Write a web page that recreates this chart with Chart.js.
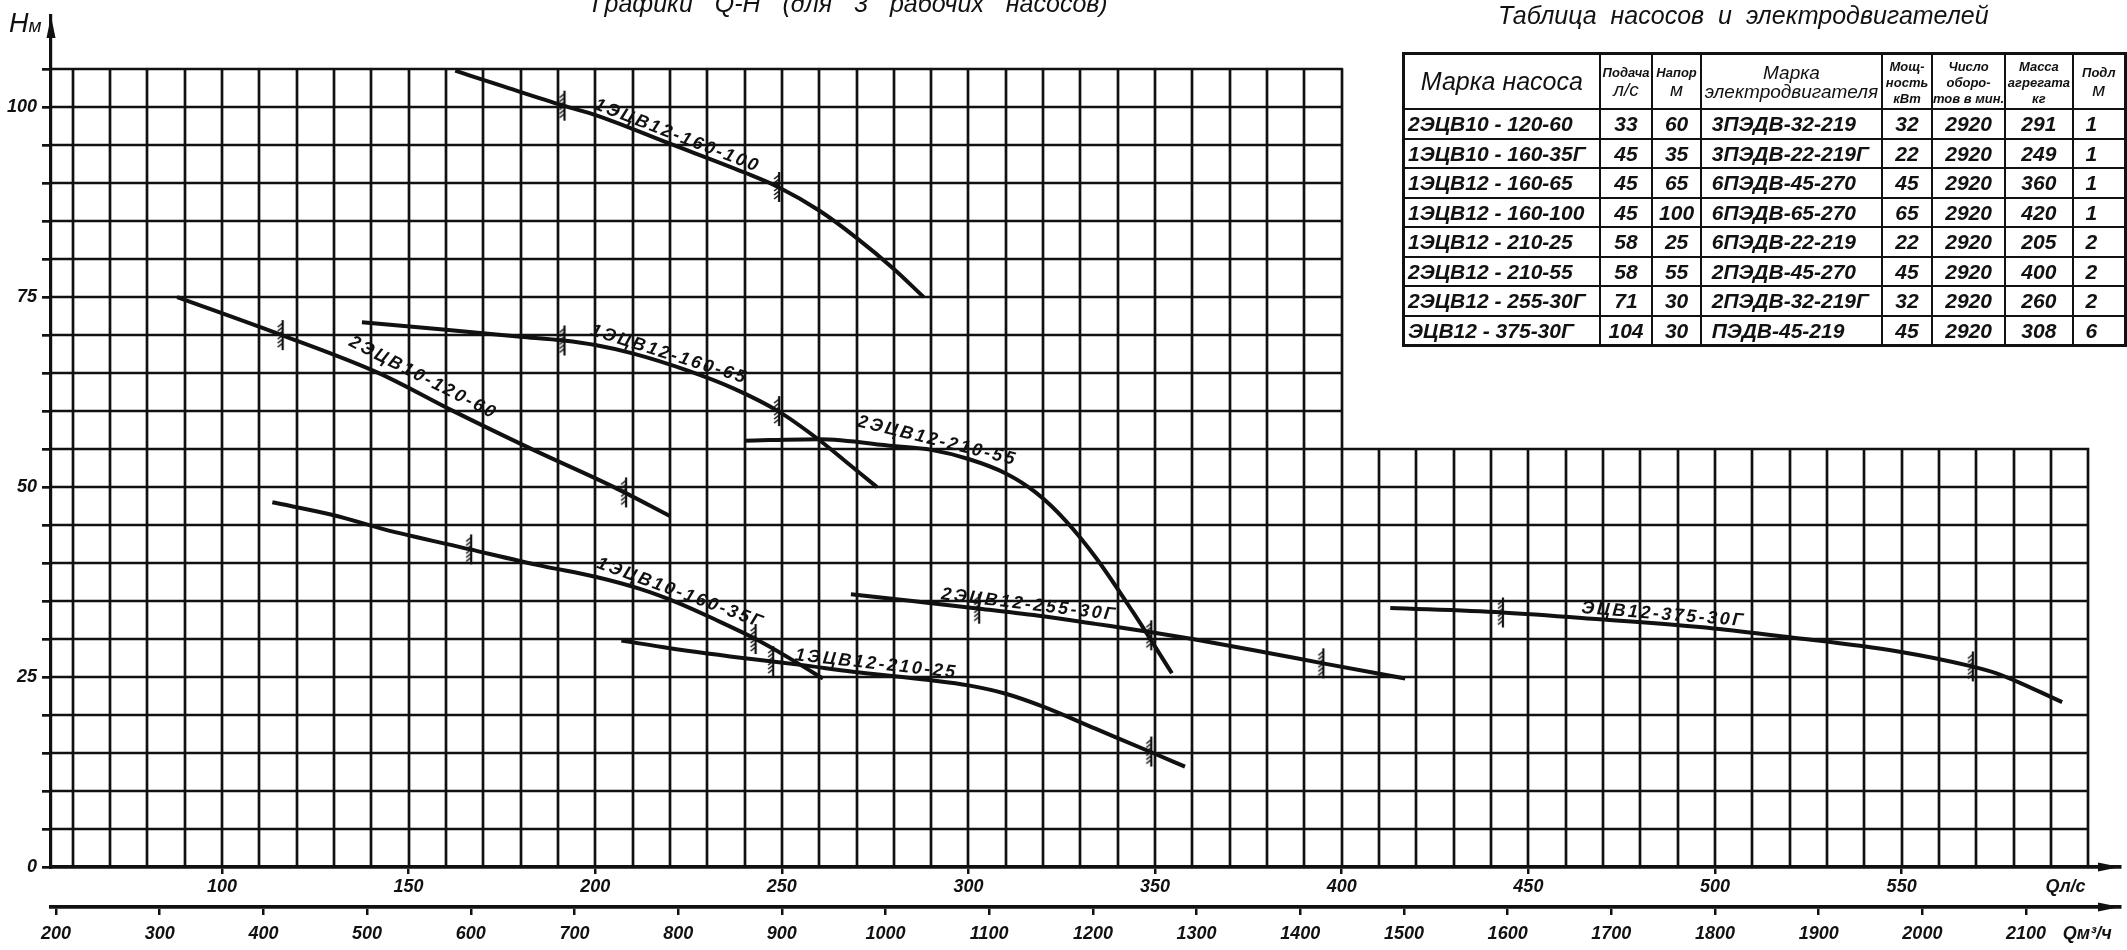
<!DOCTYPE html>
<html>
<head>
<meta charset="utf-8">
<script src="https://cdn.jsdelivr.net/npm/chart.js@4.4.1/dist/chart.umd.min.js"></script>
<style>
  html, body { margin: 0; padding: 0; background: #fff; overflow: hidden; }
  #wrap { position: relative; width: 2127px; height: 950px; overflow: hidden; background: #fff; }
  #chart { position: absolute; left: 0; top: 0; }
  .hand { position: absolute; font-family: "Liberation Sans", Arial, sans-serif;
          font-style: italic; color: #111; white-space: nowrap; }
  #title { left: 592px; top: -9px; font-size: 25px; line-height: 25px; word-spacing: 15px; }
  #tabTitle { left: 1498px; top: 3px; font-size: 25px; line-height: 25px; word-spacing: 7px; }
  #hLabel { left: 9px; top: 10px; font-size: 27px; line-height: 27px; }
  #hLabel small { font-size: 19px; }
  #pumps { position: absolute; left: 1402px; top: 52px; border-collapse: collapse; table-layout: fixed;
           font-family: "Liberation Sans", Arial, sans-serif;
           font-style: italic; font-weight: bold; color: #111; border: 3px solid #111; }
  #pumps td, #pumps th { border: 2px solid #111; padding: 0; text-align: center; white-space: nowrap; overflow: hidden; }
  #pumps tbody td { height: 27.5px; font-size: 21px; line-height: 21px; }
  #pumps thead th { height: 53px; font-weight: bold; line-height: 1; }
  #pumps td.name { text-align: left; padding-left: 3px; }
  #pumps td.motor { text-align: left; padding-left: 10px; }
  #pumps td.last { text-align: left; padding-left: 12px; }
  .hBig { font-size: 25px; font-weight: normal; }
  .hMid { font-size: 19px; font-weight: normal; }
  .hSm  { font-size: 13px; }
</style>
</head>
<body>
<div id="wrap">
  <canvas id="chart" width="2127" height="950"></canvas>
  <div id="title" class="hand">Графики Q-H (для 3 рабочих насосов)</div>
  <div id="tabTitle" class="hand">Таблица насосов и электродвигателей</div>
  <div id="hLabel" class="hand">H<small>м</small></div>
  <table id="pumps">
    <colgroup>
      <col style="width:211px"><col style="width:57px"><col style="width:55px"><col style="width:188px">
      <col style="width:56px"><col style="width:55px"><col style="width:71px"><col style="width:72px">
    </colgroup>
    <thead id="pumpHead"></thead>
    <tbody id="pumpBody"></tbody>
  </table>
</div>

<script>
// ---- axis ticks ----
const qTicks   = [100, 150, 200, 250, 300, 350, 400, 450, 500, 550];   // Q, л/с
const m3hTicks = [200, 300, 400, 500, 600, 700, 800, 900, 1000, 1100,
                  1200, 1300, 1400, 1500, 1600, 1700, 1800, 1900, 2000, 2100]; // Q, м³/ч
const hLabels  = [0, 25, 50, 75, 100];                                  // H, м

// ---- Q-H curves (Q л/с, H м) ----
const q12_160_100 = [162.5, 175, 191.5, 200.5, 220, 240, 249, 260, 270, 280, 288];
const h12_160_100 = [104.8, 102.8, 100.2, 98.9, 95.2, 91.4, 89.5, 86.4, 82.8, 78.7, 75];

const q10_120_60 = [88, 116, 142, 162, 183, 205, 220];
const h10_120_60 = [75, 70, 65, 60, 55, 50, 46.2];

const q12_160_65 = [137.5, 160, 180, 191.5, 200, 210, 225, 237, 249, 260, 268, 275.5];
const h12_160_65 = [71.7, 70.7, 69.8, 69.3, 68.7, 67.6, 65.3, 63, 60, 56.2, 53, 50];

const q12_210_55 = [240, 260, 280, 290, 300, 310, 318, 326, 334, 344, 354.5];
const h12_210_55 = [56.1, 56.3, 55.4, 54.9, 53.7, 51.8, 49.3, 45.6, 40.8, 33.6, 25.5];

const q10_160_35 = [113.5, 130, 143, 166.5, 186, 200, 212, 222, 232, 243, 254, 261];
const h10_160_35 = [48, 46.3, 44.5, 41.8, 39.6, 38.2, 36.6, 34.8, 32.6, 30, 26.9, 24.8];

const q12_210_25 = [207, 220, 243, 255, 269, 289.5, 300, 310, 320, 334, 349, 358];
const h12_210_25 = [29.8, 28.8, 27.3, 26.6, 25.7, 24.6, 23.9, 22.8, 21.1, 18.2, 15.1, 13.2];

const q12_255_30 = [268.5, 285, 303, 320, 334, 349, 360, 380, 395, 417];
const h12_255_30 = [35.9, 35, 34, 33, 32, 30.9, 30, 28.2, 26.8, 24.8];

const q12_375_30 = [413, 443, 469, 499.6, 519, 548.7, 568.8, 576.5, 593];
const h12_375_30 = [34.1, 33.5, 32.6, 31.4, 30.3, 28.4, 26.4, 25.3, 21.7];

// ---- working range marks on the curves ----
const markQ = [191.5, 249, 116, 208, 191.5, 249, 348.7, 166.5, 242.7, 302.6, 394.8, 247.4, 348.7, 442.9, 568.8];
const markH = [100.2, 89.5, 70, 49.3, 69.3, 60, 30.5, 41.8, 30, 34, 26.8, 27.1, 15.2, 33.5, 26.4];

// ---- curve captions ----
const capText = ['1ЭЦВ12-160-100', '2ЭЦВ10-120-60', '1ЭЦВ12-160-65', '2ЭЦВ12-210-55',
                 '1ЭЦВ10-160-35Г', '1ЭЦВ12-210-25', '2ЭЦВ12-255-30Г', 'ЭЦВ12-375-30Г'];
const capQ   = [221, 152, 219, 291, 222, 275, 316, 486];
const capH   = [95, 62.5, 66.2, 54.8, 34.8, 25.4, 33.2, 31.9];
const capGap = [5, 11, 5, 5, 5, 5, 5, 5];

// ---- pump table ----
const tabHead = [
  '<span class="hBig">Марка насоса</span>',
  '<span class="hSm">Подача</span><br><span class="hMid">л/с</span>',
  '<span class="hSm">Напор</span><br><span class="hMid">м</span>',
  '<span class="hMid">Марка<br>электродвигателя</span>',
  '<span class="hSm">Мощ-<br>ность<br>кВт</span>',
  '<span class="hSm">Число<br>оборо-<br>тов в мин.</span>',
  '<span class="hSm">Масса<br>агрегата<br>кг</span>',
  '<span class="hSm">Подл</span><br><span class="hMid">м</span>'
];
const tabPump  = ['2ЭЦВ10 - 120-60', '1ЭЦВ10 - 160-35Г', '1ЭЦВ12 - 160-65', '1ЭЦВ12 - 160-100',
                  '1ЭЦВ12 - 210-25', '2ЭЦВ12 - 210-55', '2ЭЦВ12 - 255-30Г', 'ЭЦВ12 - 375-30Г'];
const tabFlow  = [33, 45, 45, 45, 58, 58, 71, 104];
const tabHeadM = [60, 35, 65, 100, 25, 55, 30, 30];
const tabMotor = ['3ПЭДВ-32-219', '3ПЭДВ-22-219Г', '6ПЭДВ-45-270', '6ПЭДВ-65-270',
                  '6ПЭДВ-22-219', '2ПЭДВ-45-270', '2ПЭДВ-32-219Г', 'ПЭДВ-45-219'];
const tabPower = [32, 22, 45, 65, 22, 45, 32, 45];
const tabRpm   = [2920, 2920, 2920, 2920, 2920, 2920, 2920, 2920];
const tabMass  = [291, 249, 360, 420, 205, 400, 260, 308];
const tabLast  = [1, 1, 1, 1, 2, 2, 2, 6];

// fill the table
document.getElementById('pumpHead').innerHTML =
  '<tr>' + tabHead.map(h => `<th>${h}</th>`).join('') + '</tr>';
document.getElementById('pumpBody').innerHTML = tabPump.map((p, i) =>
  `<tr><td class="name">${p}</td><td>${tabFlow[i]}</td><td>${tabHeadM[i]}</td>` +
  `<td class="motor">${tabMotor[i]}</td><td>${tabPower[i]}</td><td>${tabRpm[i]}</td>` +
  `<td>${tabMass[i]}</td><td class="last">${tabLast[i]}</td></tr>`).join('');

// ---- chart geometry ----
const X_MIN = 54.2, X_MAX = 608.5, Y_MAX = 112;
const GRID_TOP = 105, GRID_RIGHT = 600, BLOCK_Q = 400, BLOCK_H = 55;
const QLS_POS = 593.9, QM3_POS = 2159;
const INK = '#111';
const FONT_FAMILY = '"Liberation Sans", Arial, sans-serif';
const tickFont = { family: FONT_FAMILY, size: 18, style: 'italic', weight: 'bold' };

const curves = [
  [q12_160_100, h12_160_100], [q10_120_60, h10_120_60], [q12_160_65, h12_160_65],
  [q12_210_55, h12_210_55], [q10_160_35, h10_160_35], [q12_210_25, h12_210_25],
  [q12_255_30, h12_255_30], [q12_375_30, h12_375_30]
];

// hatch mark used as point style
function makeHatch() {
  const c = document.createElement('canvas');
  c.width = 12; c.height = 32;
  const g = c.getContext('2d');
  g.strokeStyle = INK; g.lineWidth = 2.2;
  g.beginPath(); g.moveTo(7, 1); g.lineTo(7, 31); g.stroke();
  g.lineWidth = 1.6;
  for (let y = 4; y <= 26; y += 4) { g.beginPath(); g.moveTo(7, y); g.lineTo(2, y + 4); g.stroke(); }
  return c;
}

const gridPlugin = {
  id: 'lGrid',
  beforeDatasetsDraw(chart) {
    const { ctx, scales: { x, y } } = chart;
    ctx.save();
    ctx.strokeStyle = INK;
    ctx.lineWidth = 2.7;
    ctx.beginPath();
    for (let q = 60; q <= GRID_RIGHT; q += 10) {
      const top = q <= BLOCK_Q ? GRID_TOP : BLOCK_H;
      const px = Math.round(x.getPixelForValue(q));
      ctx.moveTo(px, y.getPixelForValue(0));
      ctx.lineTo(px, y.getPixelForValue(top) - 1);
    }
    for (let h = 5; h <= GRID_TOP; h += 5) {
      const right = h <= BLOCK_H ? GRID_RIGHT : BLOCK_Q;
      const py = Math.round(y.getPixelForValue(h));
      ctx.moveTo(x.getPixelForValue(X_MIN), py);
      ctx.lineTo(x.getPixelForValue(right) + 1, py);
    }
    ctx.stroke();
    ctx.restore();
  }
};

const captionPlugin = {
  id: 'captions',
  afterDatasetsDraw(chart) {
    const { ctx, scales: { x, y } } = chart;
    ctx.save();
    ctx.fillStyle = INK;
    ctx.font = `italic bold 18px ${FONT_FAMILY}`;
    ctx.textAlign = 'center';
    ctx.textBaseline = 'alphabetic';
    if ('letterSpacing' in ctx) ctx.letterSpacing = '2.5px';
    capText.forEach((t, i) => {
      const [qs, hs] = curves[i];
      // local direction of the curve around the caption
      let k = 1;
      while (k < qs.length - 1 && qs[k] < capQ[i]) k++;
      const dx = x.getPixelForValue(qs[k]) - x.getPixelForValue(qs[k - 1]);
      const dy = y.getPixelForValue(hs[k]) - y.getPixelForValue(hs[k - 1]);
      const ang = Math.atan2(dy, dx);
      ctx.save();
      ctx.translate(x.getPixelForValue(capQ[i]), y.getPixelForValue(capH[i]));
      ctx.rotate(ang);
      ctx.fillText(t, 0, -capGap[i]);
      ctx.restore();
    });
    ctx.restore();
  }
};

function arrowHead(ctx, tx, ty, dir) {
  const L = 22, W = 4.5;
  ctx.beginPath();
  if (dir === 'right') { ctx.moveTo(tx, ty); ctx.lineTo(tx - L, ty - W); ctx.lineTo(tx - L, ty + W); }
  else { ctx.moveTo(tx, ty); ctx.lineTo(tx - W, ty + L); ctx.lineTo(tx + W, ty + L); }
  ctx.closePath();
  ctx.fill();
}

const arrowPlugin = {
  id: 'arrows',
  afterDraw(chart) {
    const { ctx, chartArea, scales } = chart;
    ctx.save();
    ctx.fillStyle = INK;
    arrowHead(ctx, chartArea.right, chartArea.bottom, 'right');
    arrowHead(ctx, chartArea.right, scales.x2.top, 'right');
    arrowHead(ctx, chartArea.left, chartArea.top, 'up');
    ctx.restore();
  }
};

const hatch = makeHatch();
const datasets = curves.map(([qs, hs]) => ({
  data: qs.map((q, i) => ({ x: q, y: hs[i] })),
  showLine: true,
  borderColor: INK,
  borderWidth: 4,
  pointRadius: 0,
  cubicInterpolationMode: 'monotone',
  fill: false
}));
datasets.push({
  data: markQ.map((q, i) => ({ x: q, y: markH[i] })),
  showLine: false,
  pointStyle: hatch,
  pointRadius: 6
});

new Chart(document.getElementById('chart'), {
  type: 'scatter',
  data: { datasets },
  options: {
    responsive: false,
    animation: false,
    devicePixelRatio: 1,
    layout: { padding: { top: 16, right: 2, left: 0, bottom: 0 } },
    plugins: { legend: { display: false }, tooltip: { enabled: false } },
    scales: {
      x: {
        type: 'linear', position: 'bottom', weight: 1, min: X_MIN, max: X_MAX,
        afterFit: s => { s.height = 40; },
        afterBuildTicks: s => { s.ticks = qTicks.concat([QLS_POS]).map(v => ({ value: v })); },
        ticks: { font: tickFont, color: INK, padding: 2, maxRotation: 0, autoSkip: false,
                 callback: v => v === QLS_POS ? 'Qл/с' : String(v) },
        grid: { drawOnChartArea: false, tickLength: 7, lineWidth: 2.5,
                color: c => (c.tick && c.tick.value === QLS_POS) ? 'rgba(0,0,0,0)' : INK },
        border: { display: true, color: INK, width: 3.8 }
      },
      x2: {
        type: 'linear', position: 'bottom', weight: 2, min: X_MIN * 3.6, max: X_MAX * 3.6,
        afterFit: s => { s.height = 43; },
        afterBuildTicks: s => { s.ticks = m3hTicks.concat([QM3_POS]).map(v => ({ value: v })); },
        ticks: { font: tickFont, color: INK, padding: 8, maxRotation: 0, autoSkip: false,
                 callback: v => v === QM3_POS ? 'Qм³/ч' : String(v) },
        grid: { drawOnChartArea: false, tickLength: 8, lineWidth: 2.5,
                color: c => (c.tick && c.tick.value === QM3_POS) ? 'rgba(0,0,0,0)' : INK },
        border: { display: true, color: INK, width: 3.8 }
      },
      y: {
        type: 'linear', position: 'left', min: 0, max: Y_MAX,
        afterFit: s => { s.width = 51; },
        afterBuildTicks: s => {
          const t = [];
          for (let h = 0; h <= 105; h += 5) t.push({ value: h });
          s.ticks = t;
        },
        ticks: { font: tickFont, color: INK, padding: 5,
                 callback: v => hLabels.includes(v) ? String(v) : '' },
        grid: { drawOnChartArea: false, tickLength: 9, lineWidth: 2.7, color: INK },
        border: { display: true, color: INK, width: 3.2 }
      }
    }
  },
  plugins: [gridPlugin, captionPlugin, arrowPlugin]
});
</script>
</body>
</html>
